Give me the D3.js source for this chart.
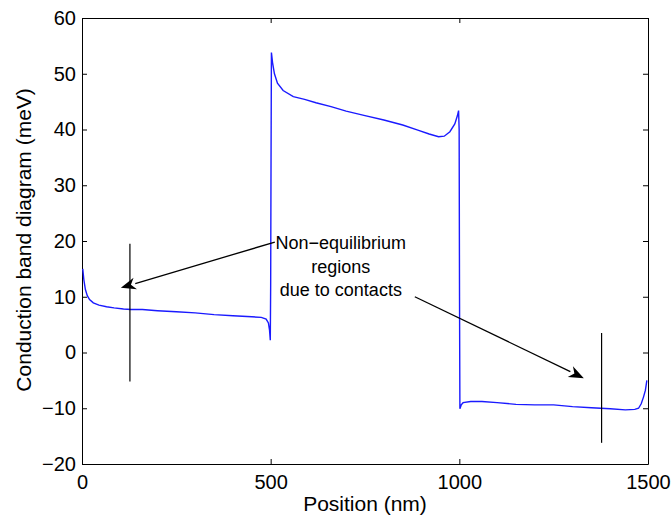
<!DOCTYPE html>
<html>
<head>
<meta charset="utf-8">
<script src="https://cdn.jsdelivr.net/npm/d3@7"></script>
<style>
body { margin: 0; background: #fff; }
text { font-family: "Liberation Sans", Arial, sans-serif; }
</style>
</head>
<body>
<script>
// dimensions du graphe
var larg = 672;
var haut = 515;
var marge = {gauche: 82, droite: 24, haut: 18, bas: 51};

// profil de bande de conduction (position en nm, energie en meV)
var positions = [2, 5, 9, 14, 20, 30, 45, 65, 85, 110, 130, 160, 200, 250, 300, 350, 400, 450, 475, 488, 494, 497, 499,
	500, 501, 502, 505, 510, 518, 533, 560, 590, 620, 660, 700, 750, 800, 850, 890, 920, 945, 960, 975, 988, 995, 998,
	999.5, 1000.5, 1001.5, 1005, 1010, 1030, 1060, 1100, 1150, 1200, 1250, 1300, 1350, 1400, 1440, 1465, 1475, 1482, 1488, 1493, 1497];
var energies = [15, 13, 11.3, 10.2, 9.5, 8.9, 8.5, 8.2, 8.0, 7.8, 7.7, 7.7, 7.5, 7.3, 7.1, 6.8, 6.6, 6.4, 6.3, 6.0, 5.3, 4.0, 2.2,
	12, 35, 53.8, 52, 50, 48.3, 47, 45.9, 45.4, 44.8, 44.1, 43.3, 42.5, 41.7, 40.8, 39.9, 39.2, 38.7, 38.8, 39.6, 41, 42.5, 43.4,
	40, 10, -10.1, -9.4, -9.0, -8.8, -8.8, -9.0, -9.3, -9.4, -9.4, -9.7, -9.9, -10.1, -10.3, -10.2, -10.0, -9.2, -8.0, -6.8, -5.0];

var xTicks = [0, 500, 1000, 1500];
var yTicks = [-20, -10, 0, 10, 20, 30, 40, 50, 60];

// annotations : lignes verticales et fleches
var barres = [[127, 19.5, -5.2], [1377, 3.5, -16.2]];
var fleches = [[511, 19.8, 103, 11.6], [882, 10, 1330, -4.6]];
var texte = ["Non\u2212equilibrium", "regions", "due to contacts"];
var textePos = [686, 18.5];

var xScale = d3.scaleLinear()
	.domain([0, 1500])
	.range([marge.gauche, larg - marge.droite]);

var yScale = d3.scaleLinear()
	.domain([-20, 60])
	.range([haut - marge.bas, marge.haut]);

var svg = d3.select("body")
	.append("svg")
	.attr("width", larg)
	.attr("height", haut);

// axes (ticks vers l'interieur, comme matlab)
svg.append("g")
	.attr("transform", "translate(0," + yScale(-20) + ")")
	.call(d3.axisBottom(xScale).tickValues(xTicks).tickFormat(d3.format("d")).tickSize(-5).tickSizeOuter(0).tickPadding(11));
svg.append("g")
	.attr("transform", "translate(0," + yScale(60) + ")")
	.call(d3.axisTop(xScale).tickValues(xTicks).tickSize(-5).tickSizeOuter(0).tickFormat(""));
svg.append("g")
	.attr("transform", "translate(" + xScale(0) + ",0)")
	.call(d3.axisLeft(yScale).tickValues(yTicks).tickFormat(d3.format("d")).tickSize(-5).tickSizeOuter(0).tickPadding(6));
svg.append("g")
	.attr("transform", "translate(" + xScale(1500) + ",0)")
	.call(d3.axisRight(yScale).tickValues(yTicks).tickSize(-5).tickSizeOuter(0).tickFormat(""));

svg.selectAll(".tick text")
	.attr("font-family", "Liberation Sans, Arial, sans-serif")
	.attr("font-size", "20px")
	.attr("fill", "#000");
svg.selectAll(".domain, .tick line").attr("stroke", "#000");

// courbe
var points = positions.map(function(p, i) { return [p, energies[i]]; });
svg.append("path")
	.datum(points)
	.attr("fill", "none")
	.attr("stroke", "#1a1aff")
	.attr("stroke-width", 1.4)
	.attr("d", d3.line()
		.x(function(d) { return xScale(d[0]); })
		.y(function(d) { return yScale(d[1]); }));

// lignes verticales
svg.selectAll("line.barre")
	.data(barres)
	.enter()
	.append("line")
	.attr("class", "barre")
	.attr("x1", function(d) { return xScale(d[0]); })
	.attr("x2", function(d) { return xScale(d[0]); })
	.attr("y1", function(d) { return yScale(d[1]); })
	.attr("y2", function(d) { return yScale(d[2]); })
	.attr("stroke", "#000")
	.attr("stroke-width", 1.2);

// fleches
fleches.forEach(function(f) {
	var x1 = xScale(f[0]), y1 = yScale(f[1]);
	var x2 = xScale(f[2]), y2 = yScale(f[3]);
	var a = Math.atan2(y2 - y1, x2 - x1);
	var L = 15, W = 6;
	var bx = x2 - L * Math.cos(a), by = y2 - L * Math.sin(a);
	svg.append("line")
		.attr("x1", x1).attr("y1", y1)
		.attr("x2", bx).attr("y2", by)
		.attr("stroke", "#000")
		.attr("stroke-width", 1.3);
	svg.append("polygon")
		.attr("points", [
			[x2, y2],
			[bx + W * Math.sin(a), by - W * Math.cos(a)],
			[x2 - 0.7 * L * Math.cos(a), y2 - 0.7 * L * Math.sin(a)],
			[bx - W * Math.sin(a), by + W * Math.cos(a)]
		].map(function(p) { return p.join(","); }).join(" "))
		.attr("fill", "#000");
});

svg.selectAll("text.note")
	.data(texte)
	.enter()
	.append("text")
	.attr("class", "note")
	.attr("x", xScale(textePos[0]))
	.attr("y", function(d, i) { return yScale(textePos[1]) + i * 23.5; })
	.attr("text-anchor", "middle")
	.attr("font-size", "18px")
	.attr("fill", "#000")
	.text(function(d) { return d; });

// titres des axes
svg.append("text")
	.attr("x", (xScale(0) + xScale(1500)) / 2)
	.attr("y", 511)
	.attr("text-anchor", "middle")
	.attr("font-size", "21px")
	.text("Position (nm)");

svg.append("text")
	.attr("transform", "translate(31," + (yScale(20.2)) + ") rotate(-90)")
	.attr("text-anchor", "middle")
	.attr("font-size", "21px")
	.text("Conduction band diagram (meV)");
</script>
</body>
</html>
